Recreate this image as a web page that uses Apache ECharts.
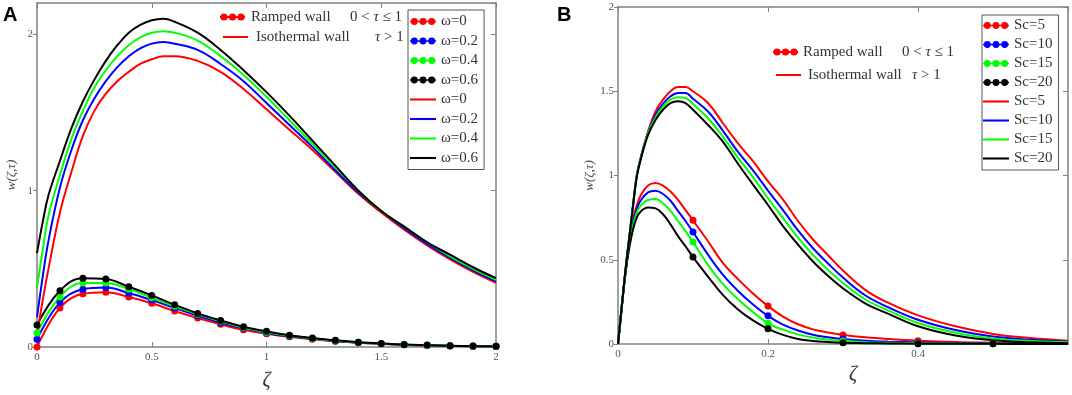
<!DOCTYPE html>
<html>
<head>
<meta charset="utf-8">
<script src="https://cdn.jsdelivr.net/npm/echarts@6/dist/echarts.min.js"></script>
<style>
    html, body { margin: 0; padding: 0; background: #fff; }
    #chart { width: 1072px; height: 395px; }
</style>
</head>
<body>
<div id="chart"></div>
<script>
    // ---- panel A : effect of omega ----
    const omegaLabels = ['ω=0', 'ω=0.2', 'ω=0.4', 'ω=0.6']
    const zetaRampA = [0, 0.1, 0.2, 0.3, 0.4, 0.5, 0.6, 0.7, 0.8, 0.9, 1.0, 1.1, 1.2, 1.3, 1.4, 1.5, 1.6, 1.7, 1.8, 1.9, 2.0]
    const rampA0 = [0.0, 0.25, 0.34, 0.35, 0.32, 0.28, 0.23, 0.185, 0.145, 0.11, 0.085, 0.065, 0.05, 0.037, 0.027, 0.02, 0.014, 0.01, 0.007, 0.005, 0.003]
    const rampA2 = [0.05, 0.285, 0.37, 0.38, 0.345, 0.30, 0.25, 0.20, 0.155, 0.12, 0.09, 0.068, 0.052, 0.039, 0.028, 0.021, 0.015, 0.011, 0.008, 0.005, 0.004]
    const rampA4 = [0.09, 0.32, 0.41, 0.41, 0.37, 0.315, 0.26, 0.21, 0.165, 0.125, 0.095, 0.072, 0.055, 0.041, 0.03, 0.022, 0.016, 0.011, 0.008, 0.006, 0.004]
    const rampA6 = [0.14, 0.36, 0.44, 0.435, 0.385, 0.33, 0.27, 0.215, 0.17, 0.13, 0.10, 0.075, 0.058, 0.043, 0.031, 0.023, 0.016, 0.012, 0.008, 0.006, 0.004]

    const zetaIsoA = [0, 0.025, 0.05, 0.1, 0.15, 0.2, 0.25, 0.3, 0.35, 0.4, 0.45, 0.5, 0.55, 0.6, 0.7, 0.8, 0.9, 1.0, 1.1, 1.2, 1.3, 1.4, 1.5, 1.6, 1.7, 1.8, 1.9, 2.0]
    const isoA0 = [0.08, 0.30, 0.50, 0.86, 1.12, 1.35, 1.51, 1.62, 1.70, 1.76, 1.81, 1.84, 1.86, 1.86, 1.83, 1.76, 1.65, 1.52, 1.39, 1.26, 1.12, 0.98, 0.86, 0.75, 0.65, 0.56, 0.48, 0.41]
    const isoA2 = [0.19, 0.45, 0.68, 1.02, 1.26, 1.45, 1.59, 1.70, 1.79, 1.86, 1.91, 1.94, 1.95, 1.94, 1.90, 1.81, 1.70, 1.56, 1.42, 1.28, 1.13, 0.99, 0.87, 0.76, 0.66, 0.57, 0.49, 0.42]
    const isoA4 = [0.38, 0.62, 0.84, 1.10, 1.33, 1.51, 1.66, 1.77, 1.86, 1.93, 1.98, 2.01, 2.02, 2.01, 1.96, 1.86, 1.74, 1.60, 1.45, 1.30, 1.15, 1.00, 0.87, 0.77, 0.67, 0.58, 0.50, 0.43]
    const isoA6 = [0.60, 0.80, 0.97, 1.19, 1.40, 1.57, 1.71, 1.83, 1.93, 2.01, 2.06, 2.09, 2.10, 2.08, 2.01, 1.90, 1.77, 1.63, 1.48, 1.32, 1.16, 1.00, 0.87, 0.77, 0.67, 0.59, 0.51, 0.44]

    // ---- panel B : effect of Sc ----
    const scLabels = ['Sc=5', 'Sc=10', 'Sc=15', 'Sc=20']
    const zetaB = [0, 0.005, 0.01, 0.015, 0.02, 0.025, 0.03, 0.04, 0.05, 0.06, 0.07, 0.08, 0.09, 0.1, 0.12, 0.14, 0.16, 0.18, 0.2, 0.22, 0.24, 0.26, 0.28, 0.3, 0.33, 0.36, 0.4, 0.45, 0.5, 0.55, 0.6]
    const rampB5 = [0, 0.22, 0.43, 0.60, 0.74, 0.82, 0.88, 0.94, 0.955, 0.94, 0.905, 0.855, 0.795, 0.734, 0.61, 0.48, 0.385, 0.30, 0.225, 0.163, 0.117, 0.087, 0.068, 0.054, 0.04, 0.03, 0.02, 0.012, 0.008, 0.005, 0.003]
    const rampB10 = [0, 0.22, 0.43, 0.59, 0.72, 0.80, 0.85, 0.90, 0.91, 0.89, 0.85, 0.79, 0.73, 0.665, 0.53, 0.41, 0.315, 0.235, 0.167, 0.115, 0.08, 0.055, 0.04, 0.03, 0.02, 0.014, 0.009, 0.005, 0.003, 0.002, 0.001]
    const rampB15 = [0, 0.22, 0.42, 0.58, 0.70, 0.78, 0.82, 0.855, 0.86, 0.835, 0.79, 0.73, 0.67, 0.605, 0.47, 0.355, 0.265, 0.19, 0.123, 0.085, 0.057, 0.038, 0.026, 0.018, 0.011, 0.007, 0.004, 0.002, 0.001, 0.001, 0]
    const rampB20 = [0, 0.22, 0.42, 0.57, 0.68, 0.75, 0.785, 0.81, 0.805, 0.77, 0.71, 0.64, 0.58, 0.516, 0.40, 0.29, 0.205, 0.14, 0.09, 0.054, 0.03, 0.018, 0.012, 0.008, 0.005, 0.003, 0.002, 0.001, 0.001, 0, 0]
    const isoB5 = [0, 0.22, 0.44, 0.63, 0.82, 1.0, 1.10, 1.26, 1.38, 1.45, 1.50, 1.525, 1.525, 1.50, 1.43, 1.31, 1.19, 1.085, 0.965, 0.857, 0.73, 0.62, 0.527, 0.436, 0.32, 0.245, 0.17, 0.105, 0.06, 0.035, 0.02]
    const isoB10 = [0, 0.22, 0.44, 0.63, 0.82, 1.0, 1.10, 1.255, 1.36, 1.425, 1.47, 1.49, 1.49, 1.455, 1.38, 1.265, 1.14, 1.03, 0.91, 0.795, 0.674, 0.568, 0.478, 0.394, 0.288, 0.219, 0.144, 0.083, 0.045, 0.025, 0.014]
    const isoB15 = [0, 0.22, 0.44, 0.63, 0.82, 0.995, 1.095, 1.25, 1.345, 1.41, 1.45, 1.465, 1.46, 1.425, 1.34, 1.23, 1.105, 0.99, 0.865, 0.747, 0.632, 0.529, 0.44, 0.362, 0.264, 0.2, 0.125, 0.067, 0.033, 0.018, 0.01]
    const isoB20 = [0, 0.22, 0.44, 0.63, 0.82, 0.99, 1.09, 1.24, 1.33, 1.39, 1.43, 1.44, 1.43, 1.39, 1.30, 1.20, 1.07, 0.946, 0.825, 0.70, 0.59, 0.49, 0.405, 0.33, 0.24, 0.18, 0.105, 0.05, 0.022, 0.01, 0.005]

    const colors = ['#ff0000', '#0000ff', '#00ff00', '#000000']
    const serif = "'Liberation Serif', 'Times New Roman', serif"
    const frame = '#808080'
    const zw = '\u200b' // keeps the solid-line legend names apart from the marked ones

    const dotsIcon = 'path://M0,4h30v2h-30z M1,5a4,4 0 1,1 8,0a4,4 0 1,1 -8,0z M11,5a4,4 0 1,1 8,0a4,4 0 1,1 -8,0z M21,5a4,4 0 1,1 8,0a4,4 0 1,1 -8,0z'
    const lineIcon = 'path://M0,0h30v2.4h-30z'

    const pts = (xs, ys) => xs.map((x, i) => [x, ys[i]])

    function xAxes (grid, max, interval, nameGap, namePad) {
        const base = {
            type: 'value', gridIndex: grid, min: 0, max, interval,
            axisLine: {show: true, onZero: false, lineStyle: {color: frame, width: 1.5}},
            axisTick: {inside: true, length: 5, lineStyle: {color: frame}},
            splitLine: {show: false}
        }
        return [
            Object.assign({}, base, {
                position: 'bottom',
                axisLabel: {margin: 5, fontFamily: serif, fontSize: 11, color: '#555', showMaxLabel: grid === 0},
                name: 'ζ', nameLocation: 'middle', nameGap,
                nameTextStyle: {fontFamily: serif, fontStyle: 'italic', fontSize: 20, color: '#333', padding: namePad}
            }),
            Object.assign({}, base, {position: 'top', axisLabel: {show: false}})
        ]
    }

    function yAxes (grid, max, interval, nameGap, showMax) {
        const base = {
            type: 'value', gridIndex: grid, min: 0, max, interval,
            axisLine: {show: true, onZero: false, lineStyle: {color: frame, width: 1.5}},
            splitLine: {show: false}
        }
        return [
            Object.assign({}, base, {
                position: 'left',
                axisTick: {inside: false, length: 4, lineStyle: {color: frame}},
                axisLabel: {margin: 4, fontFamily: serif, fontSize: 11, color: '#555', showMaxLabel: showMax},
                name: 'w(ζ,τ)', nameLocation: 'middle', nameGap, nameRotate: 90,
                nameTextStyle: {fontFamily: serif, fontStyle: 'italic', fontSize: 13, color: '#444'}
            }),
            Object.assign({}, base, {
                position: 'right',
                axisTick: {inside: true, length: 5, lineStyle: {color: frame}},
                axisLabel: {show: false}
            })
        ]
    }

    function lineSeries (name, data, i, xi, yi, marked, sizeFn) {
        return {
            type: 'line', name, data, xAxisIndex: xi, yAxisIndex: yi,
            smooth: 0.4,
            symbol: marked ? 'circle' : 'none',
            symbolSize: marked ? (sizeFn || 7) : 0,
            showSymbol: marked,
            lineStyle: {color: colors[i], width: 2},
            itemStyle: {color: colors[i], borderWidth: 0},
            silent: true
        }
    }

    // markers of the ramped curves in B sit on every 0.1 of zeta (0.1 .. 0.5)
    const tenthMarker = (v) => {
        const k = Math.round(v[0] * 10)
        return k > 0 && k < 6 && Math.abs(v[0] * 10 - k) < 1e-6 ? 7 : 0
    }

    const rampA = [rampA0, rampA2, rampA4, rampA6]
    const isoA = [isoA0, isoA2, isoA4, isoA6]
    const rampB = [rampB5, rampB10, rampB15, rampB20]
    const isoB = [isoB5, isoB10, isoB15, isoB20]

    const series = []
    omegaLabels.forEach((n, i) => series.push(lineSeries(n, pts(zetaRampA, rampA[i]), i, 0, 0, true)))
    omegaLabels.forEach((n, i) => series.push(lineSeries(n + zw, pts(zetaIsoA, isoA[i]), i, 0, 0, false)))
    scLabels.forEach((n, i) => series.push(lineSeries(n, pts(zetaB, rampB[i]), i, 2, 2, true, tenthMarker)))
    scLabels.forEach((n, i) => series.push(lineSeries(n + zw, pts(zetaB, isoB[i]), i, 2, 2, false)))

    function legendFor (names, left, top, gap, padding) {
        return {
            orient: 'vertical', left, top, padding, itemGap: gap,
            itemWidth: 26, itemHeight: 9,
            borderColor: '#555', borderWidth: 1,
            selectedMode: false,
            itemStyle: {borderWidth: 0},
            formatter: (n) => n.replace(zw, ''),
            textStyle: {fontFamily: serif, fontSize: 15, color: '#333', lineHeight: 14},
            data: names.map(n => ({name: n, icon: dotsIcon})).concat(names.map(n => ({name: n + zw, icon: lineIcon})))
        }
    }

    // "Ramped wall / Isothermal wall" key written inside each plot
    function wallKey (x, y1, y2, textX, condX1, condX2) {
        const txt = (t, tx, ty) => ({
            type: 'text', x: tx, y: ty, silent: true,
            style: {text: t, fontFamily: serif, fontSize: 15, fill: '#333', verticalAlign: 'middle',
                rich: {i: {fontFamily: serif, fontStyle: 'italic', fontSize: 15, fill: '#333'}}}
        })
        const dot = (cx) => ({type: 'circle', silent: true, shape: {cx, cy: y1, r: 3.6}, style: {fill: colors[0]}})
        return [
            {type: 'line', silent: true, shape: {x1: x, y1, x2: x + 25, y2: y1}, style: {stroke: colors[0], lineWidth: 2}},
            dot(x + 4), dot(x + 12.5), dot(x + 21),
            txt('Ramped wall', textX, y1),
            txt('0 < {i|τ} ≤ 1', condX1, y1),
            {type: 'line', silent: true, shape: {x1: x + 3, y1: y2, x2: x + 28, y2}, style: {stroke: colors[0], lineWidth: 2}},
            txt('Isothermal wall', textX + 5, y2),
            txt('{i|τ} > 1', condX2, y2)
        ]
    }

    const letter = (t, x) => ({
        type: 'text', x, y: 5, silent: true,
        style: {text: t, font: "bold 20px 'Liberation Sans', Arial, sans-serif", fill: '#000', verticalAlign: 'top'}
    })

    const chart = echarts.init(document.getElementById('chart'))
    chart.setOption({
        animation: false,
        backgroundColor: '#fff',
        grid: [
            {left: 37, top: 3, width: 459, height: 344, outerBoundsMode: 'none'},
            {left: 618, top: 7, width: 450, height: 337, outerBoundsMode: 'none'}
        ],
        xAxis: xAxes(0, 2, 0.5, 24, [0, 0, 0, 0]).concat(xAxes(1, 0.6, 0.2, 17, [0, 0, 0, 20])),
        yAxis: yAxes(0, 2.2, 1, 19, false).concat(yAxes(1, 2, 0.5, 21, true)),
        legend: [
            legendFor(omegaLabels, 408, 10, 4.5, [4, 6, 4, 2]),
            legendFor(scLabels, 982, 15, 4, [3, 6, 4, 1])
        ],
        graphic: [letter('A', 3), letter('B', 557)]
            .concat(wallKey(220, 17, 37, 251, 350, 375))
            .concat(wallKey(773, 52, 75, 803, 902, 912)),
        series
    })
</script>
</body>
</html>
